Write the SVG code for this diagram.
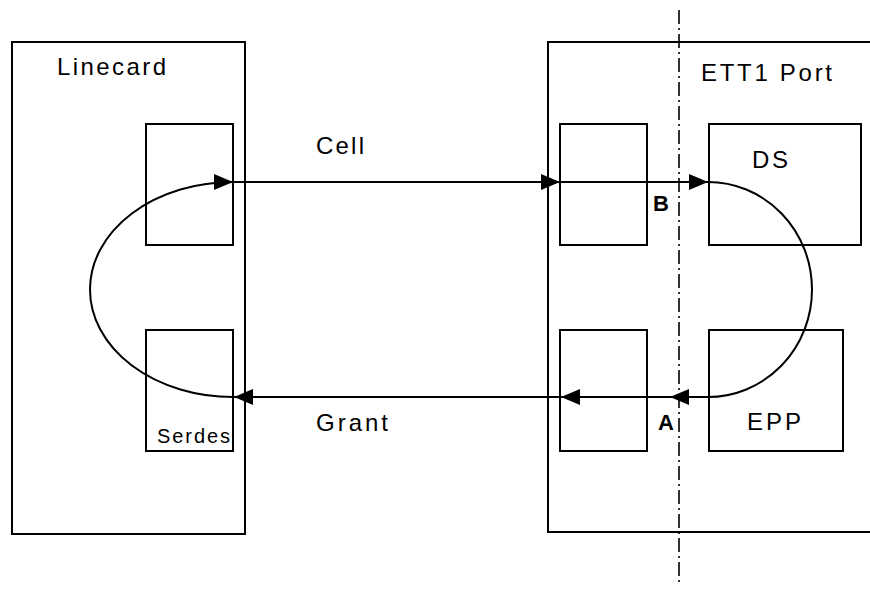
<svg xmlns="http://www.w3.org/2000/svg" width="870" height="590" viewBox="0 0 870 590">
<defs>
<style>
.box{fill:none;stroke:#000;stroke-width:2}
.lbl{font-family:"Liberation Sans",Arial,sans-serif;font-size:24px;fill:#000}
.sm{font-size:20px}
.bold{font-weight:bold;font-size:22px}
.conn{fill:none;stroke:#000;stroke-width:2}
.axis{fill:none;stroke:#000;stroke-width:1.6;stroke-dasharray:14 4 2 4}
</style>
<marker id="arr" markerUnits="userSpaceOnUse" markerWidth="19" markerHeight="16" refX="19" refY="8" orient="auto" viewBox="0 0 19 16">
<path d="M0,0 L19,8 L0,16 z" fill="#000"/>
</marker>
</defs>
<rect width="870" height="590" fill="#fff"/>
<g id="linecard">
<rect class="box" x="12" y="42" width="233" height="492"/>
<text class="lbl" x="57" y="75" textLength="109" lengthAdjust="spacing">Linecard</text>
</g>
<g id="lc-upper">
<rect class="box" x="146" y="124" width="87" height="121"/>
</g>
<g id="serdes">
<rect class="box" x="146" y="330" width="87" height="121"/>
<text class="lbl sm" x="157" y="443" textLength="73" lengthAdjust="spacing">Serdes</text>
</g>
<g id="ett1">
<rect class="box" x="548" y="42" width="340" height="490"/>
<text class="lbl" x="701" y="81" textLength="131" lengthAdjust="spacing">ETT1 Port</text>
</g>
<g id="ett1-upper">
<rect class="box" x="560" y="124" width="87" height="121"/>
</g>
<g id="ett1-lower">
<rect class="box" x="560" y="330" width="87" height="121"/>
</g>
<g id="ds">
<rect class="box" x="709" y="124" width="152" height="121"/>
<text class="lbl" x="752" y="168" textLength="36" lengthAdjust="spacing">DS</text>
</g>
<g id="epp">
<rect class="box" x="709" y="330" width="134" height="121"/>
<text class="lbl" x="747" y="430" textLength="54" lengthAdjust="spacing">EPP</text>
</g>
<g id="boundary">
<line class="axis" x1="679" y1="10" x2="679" y2="586"/>
<text class="lbl bold" x="653" y="211" textLength="17" lengthAdjust="spacing">B</text>
<text class="lbl bold" x="658" y="430" textLength="18" lengthAdjust="spacing">A</text>
</g>
<g id="connectors">
<path class="conn" d="M233,182 H560" marker-end="url(#arr)"/>
<path class="conn" d="M560,182 H708" marker-end="url(#arr)"/>
<path class="conn" d="M708,182 A104,107.5 0 0 1 708,397 H670" marker-end="url(#arr)"/>
<path class="conn" d="M670,397 H561" marker-end="url(#arr)"/>
<path class="conn" d="M561,397 H234" marker-end="url(#arr)"/>
<path class="conn" d="M233,397 A143,107.5 0 0 1 233,182" marker-end="url(#arr)"/>
<text class="lbl" x="316" y="154" textLength="48" lengthAdjust="spacing">Cell</text>
<text class="lbl" x="316" y="431" textLength="72" lengthAdjust="spacing">Grant</text>
</g>
</svg>
